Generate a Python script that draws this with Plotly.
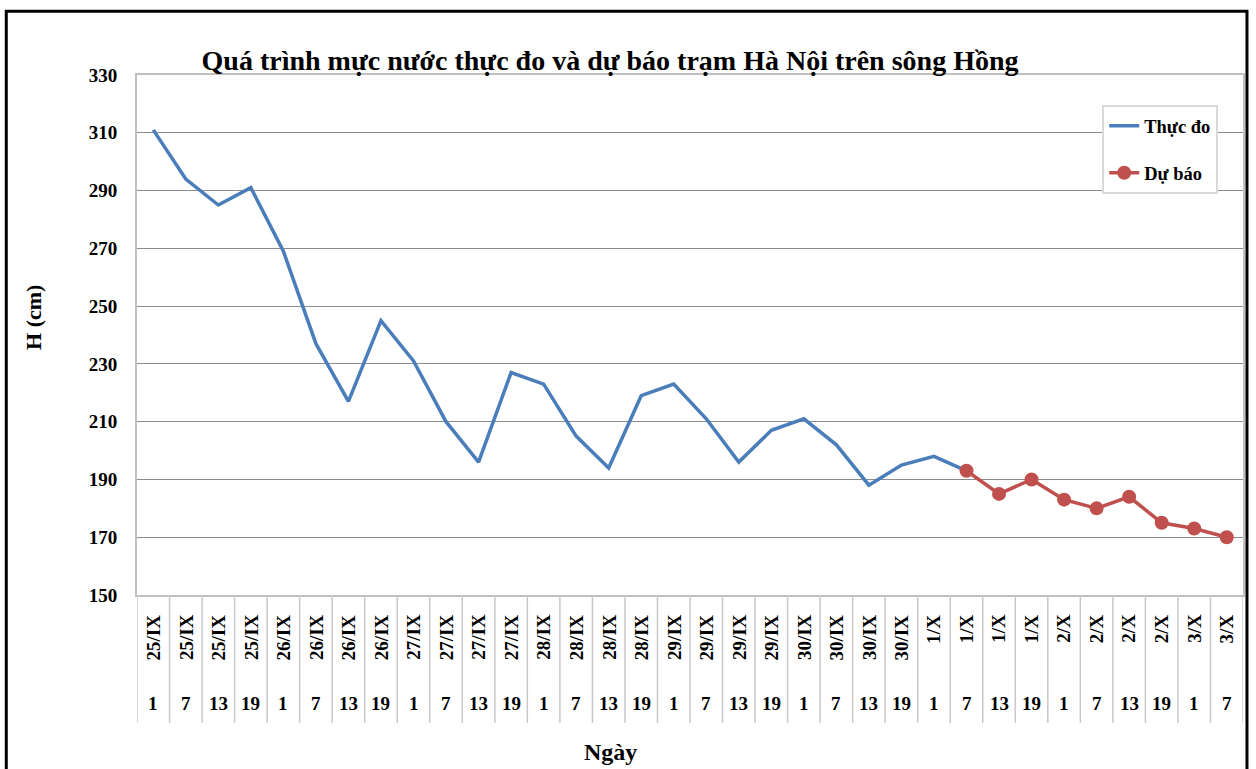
import plotly.graph_objects as go

# ---- data ----
days = ["25/IX"] * 4 + ["26/IX"] * 4 + ["27/IX"] * 4 + ["28/IX"] * 4 + ["29/IX"] * 4 + \
       ["30/IX"] * 4 + ["1/X"] * 4 + ["2/X"] * 4 + ["3/X"] * 2
hours = ["1", "7", "13", "19"] * 8 + ["1", "7"]
categories = [f"{d} {h}" for d, h in zip(days, hours)]

observed = [311, 294, 285, 291, 269, 237, 217, 245, 231, 210, 196, 227, 223, 205, 194,
            219, 223, 211, 196, 207, 211, 202, 188, 195, 198, 193,
            None, None, None, None, None, None, None, None]
forecast = [None] * 25 + [193, 185, 190, 183, 180, 184, 175, 173, 170]

title_text = "Quá trình mực nước thực đo và dự báo trạm Hà Nội trên sông Hồng"
y_title = "H (cm)"
x_title = "Ngày"
y_ticks = [150, 170, 190, 210, 230, 250, 270, 290, 310, 330]

SERIF = "Liberation Serif"

fig = go.Figure()
fig.add_trace(go.Scatter(
    x=categories, y=observed, name="Thực đo", mode="lines",
    line=dict(color="#4a7ebb", width=3.5), legendgroup="a",
))
fig.add_trace(go.Scatter(
    x=categories, y=forecast, name="Dự báo", mode="lines+markers",
    line=dict(color="#c0504d", width=3.5), marker=dict(size=14, color="#c0504d"),
    legendgroup="b",
))

annotations = []
shapes = []
for c, d, h in zip(categories, days, hours):
    annotations.append(dict(x=c, y=-0.033, xref="x", yref="paper", text=d, textangle=-90,
                            showarrow=False, xanchor="center", yanchor="top",
                            font=dict(family=SERIF, size=19, color="black", weight="bold")))
    annotations.append(dict(x=c, y=-0.2096, xref="x", yref="paper", text=h,
                            showarrow=False, xanchor="center", yanchor="middle",
                            font=dict(family=SERIF, size=19, color="black", weight="bold")))
for i in range(len(categories) + 1):
    shapes.append(dict(type="line", xref="x", yref="paper", x0=i - 0.5, x1=i - 0.5,
                       y0=0, y1=-0.246, line=dict(color="#c8c8c8", width=1.5)))

annotations.append(dict(x=-0.0930, y=0.533, xref="paper", yref="paper", text=y_title,
                        textangle=-90, showarrow=False, xanchor="center", yanchor="middle",
                        font=dict(family=SERIF, size=22, color="black", weight="bold")))
annotations.append(dict(x=0.4278, y=-0.302, xref="paper", yref="paper", text=x_title,
                        showarrow=False, xanchor="center", yanchor="middle",
                        font=dict(family=SERIF, size=24, color="black", weight="bold")))

# outer frame
shapes.append(dict(type="rect", xref="paper", yref="paper", x0=-0.1182, x1=1.0036,
                   y0=-0.35, y1=1.1225, line=dict(color="black", width=3), layer="above"))

fig.update_layout(
    width=1256, height=769,
    margin=dict(l=137, r=11, t=75, b=174),
    paper_bgcolor="white", plot_bgcolor="white",
    title=dict(text=title_text, x=0.4857, xanchor="center", y=0.922, yanchor="middle",
               font=dict(family=SERIF, size=28, color="black", weight="bold")),
    xaxis=dict(type="category", categoryorder="array", categoryarray=categories,
               range=[-0.5, len(categories) - 0.5], showticklabels=False, showgrid=False,
               showline=True, mirror=True, linecolor="#c0c0c0", linewidth=2, ticks="",
               zeroline=False),
    yaxis=dict(range=[150, 330], tickvals=y_ticks, showgrid=True, gridcolor="#8c8c8c",
               gridwidth=1.2, showline=True, mirror=True, linecolor="#c0c0c0", linewidth=2,
               zeroline=False, ticks="", ticklabelstandoff=14,
               tickfont=dict(family=SERIF, size=19, color="black", weight="bold")),
    legend=dict(x=0.8727, y=0.942, xanchor="left", yanchor="top",
                bordercolor="#d9d9d9", borderwidth=2, bgcolor="white",
                tracegroupgap=20, itemwidth=30,
                font=dict(family=SERIF, size=18.5, color="black", weight="bold")),
    annotations=annotations, shapes=shapes,
    showlegend=True,
)

fig.write_html(
    "out.html",
    config={"displayModeBar": False},
    post_script="document.body.style.margin='0';document.body.style.overflow='hidden';",
)
